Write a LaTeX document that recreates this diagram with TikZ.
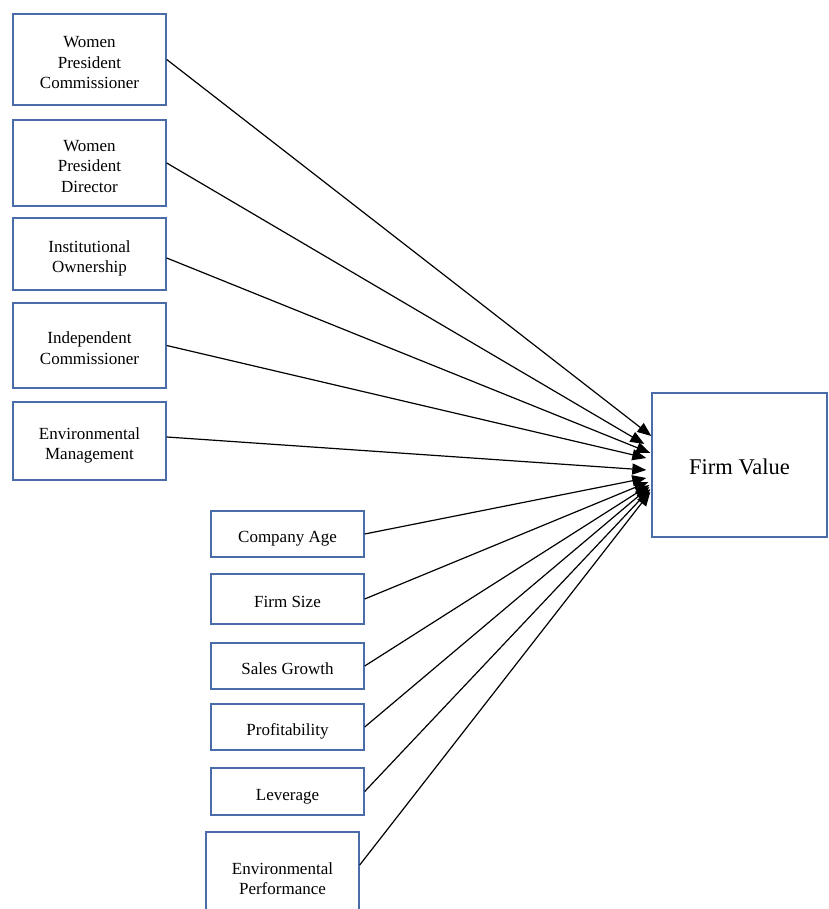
\documentclass[tikz,border=0pt]{standalone}
\usepackage{fontspec}
\setmainfont{Liberation Serif}
\usetikzlibrary{arrows.meta,calc}
\definecolor{boxblue}{HTML}{4A6CA8}
\newcommand{\boxtext}[1]{\raisebox{-4.5pt}[\height][\depth]{\begin{tabular}{@{}c@{}}#1\end{tabular}}}
\tikzset{
  varbox/.style={draw=boxblue, line width=1.4pt, fill=white, minimum width=153pt, inner sep=2pt, font=\fontsize{17}{20.5}\selectfont},
  fvbox/.style={draw=boxblue, line width=1.4pt, fill=white, minimum width=175pt, minimum height=144pt, font=\fontsize{22.5}{26}\selectfont},
  link/.style={black, line width=1.2pt, -{Triangle[length=14pt, width=11pt]}}
}
\begin{document}
\begin{tikzpicture}[x=1pt, y=1pt]
  \useasboundingbox (0,0) rectangle (828,909);
  % dependent variable
  \node[fvbox] (fv) at (739.5,444) {\boxtext{Firm Value}};
  % independent variables
  \node[varbox, minimum height=91pt] (wpc) at (89.5,849.5) {\boxtext{Women\\President\\Commissioner}};
  \node[varbox, minimum height=86pt] (wpd) at (89.5,746) {\boxtext{Women\\President\\Director}};
  \node[varbox, minimum height=72pt] (io) at (89.5,655) {\boxtext{Institutional\\Ownership}};
  \node[varbox, minimum height=85pt] (ic) at (89.5,563.5) {\boxtext{Independent\\Commissioner}};
  \node[varbox, minimum height=78pt] (em) at (89.5,468) {\boxtext{Environmental\\Management}};
  % control variables
  \node[varbox, minimum height=46pt] (age) at (287.5,375) {\boxtext{Company Age}};
  \node[varbox, minimum height=50pt] (size) at (287.5,310) {\boxtext{Firm Size}};
  \node[varbox, minimum height=46pt] (growth) at (287.5,243) {\boxtext{Sales Growth}};
  \node[varbox, minimum height=46pt] (prof) at (287.5,182) {\boxtext{Profitability}};
  \node[varbox, minimum height=47pt] (lev) at (287.5,117.5) {\boxtext{Leverage}};
  \node[varbox, minimum height=88pt] (ep) at (282.5,33) {\boxtext{Environmental\\Performance}};
  % paths into firm value
  \draw[link] (wpc.east) -- ($(fv.west)+(0,29)$);
  \draw[link] (wpd.east) -- ($(fv.west)+(-7,21)$);
  \draw[link] ([yshift=-4pt]io.east) -- ($(fv.west)+(-1,12)$);
  \draw[link] (ic.east) -- ($(fv.west)+(-5,7)$);
  \draw[link] ([yshift=4pt]em.east) -- ($(fv.west)+(-5,-5)$);
  \draw[link] (age.east) -- ($(fv.west)+(-5,-13)$);
  \draw[link] (size.east) -- ($(fv.west)+(-3,-17)$);
  \draw[link] (growth.east) -- ($(fv.west)+(-2,-20)$);
  \draw[link] (prof.east) -- ($(fv.west)+(-2,-22)$);
  \draw[link] (lev.east) -- ($(fv.west)+(-1,-24)$);
  \draw[link] ([yshift=11pt]ep.east) -- ($(fv.west)+(-1,-27)$);
\end{tikzpicture}
\end{document}
